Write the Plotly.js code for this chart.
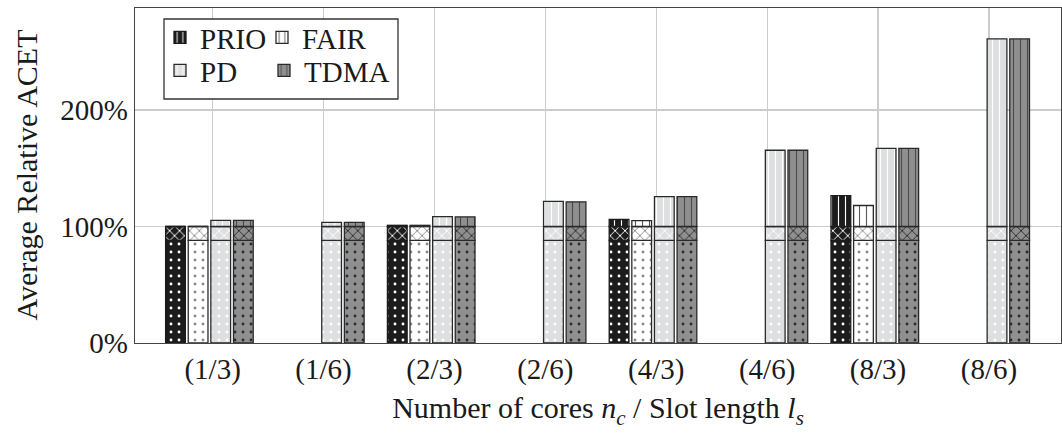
<!DOCTYPE html>
<html>
<head>
<meta charset="utf-8">
<script src="https://cdn.plot.ly/plotly-3.0.1.min.js"></script>
<style>
  html, body { margin: 0; padding: 0; background: #fff; }
  #chart { width: 1062px; height: 433px; }
</style>
</head>
<body>
<div id="chart"></div>
<script>
// ---- data (percent of reference ACET) ----
const categories = ['(1/3)', '(1/6)', '(2/3)', '(2/6)', '(4/3)', '(4/6)', '(8/3)', '(8/6)'];
const seriesNames = ['PRIO', 'FAIR', 'PD', 'TDMA'];
// total bar heights
const prioTotal = [100, null, 101, null, 106, null, 126.5, null];
const fairTotal = [100, null, 101, null, 105, null, 118, null];
const pdTotal   = [105.3, 103.6, 108.5, 121.5, 125.6, 165.4, 167.1, 261];
const tdmaTotal = [105.3, 103.6, 108.3, 121.2, 125.6, 165.4, 167.1, 261];
// segment boundaries (dotted part, cross-hatched part up to 100 %)
const lowerPart = [88, 88, 88, 88, 88, 88, 88, 88];
const middleTop = [100, 100, 100, 100, 100, 100, 100, 100];
const yTickVals = [0, 100, 200];
const yTickText = ['0%', '100%', '200%'];
const xTitle = 'Number of cores <i>n<sub>c</sub></i> / Slot length <i>l<sub>s</sub></i>';
const yTitle = 'Average Relative ACET';

const totals = [prioTotal, fairTotal, pdTotal, tdmaTotal];

// ---- styling ----
const FONT = 'Liberation Serif';
const styles = [
  { bg: '#1c1c1c', fg: '#ffffff', line: '#1c1c1c' },   // PRIO
  { bg: '#ffffff', fg: '#8a8a8a', line: '#2a2a2a' },   // FAIR
  { bg: '#dedfe0', fg: '#ffffff', line: '#2a2a2a' },   // PD
  { bg: '#8f8f8f', fg: '#2a2a2a', line: '#2a2a2a' }    // TDMA
];
const legendIds = ['legend', 'legend2', 'legend3', 'legend4'];
const vlineFg = ['#ffffff', '#5a5a5a', '#ffffff', '#4a4a4a'];
const offsets = [-0.424, -0.220, -0.016, 0.188];
const barWidth = 0.178;

const traces = [];
totals.forEach((tot, s) => {
  const st = styles[s];
  const has = tot.map(v => v !== null);
  const lowY = lowerPart.map((v, i) => has[i] ? v : null);
  const midY = middleTop.map((v, i) => has[i] ? v - lowerPart[i] : null);
  const midBase = lowerPart.map((v, i) => has[i] ? v : null);
  const topY = tot.map((v, i) => has[i] ? Math.max(0, v - middleTop[i]) : null);
  const topBase = middleTop.map((v, i) => has[i] ? v : null);
  const common = {
    type: 'bar', x: categories, offset: offsets[s], width: barWidth,
    hoverinfo: 'skip'
  };
  traces.push(Object.assign({}, common, {
    y: lowY, base: 0, showlegend: false, name: seriesNames[s] + ' base',
    marker: { color: st.bg, line: { color: st.line, width: 1.3 },
      pattern: { shape: '.', bgcolor: st.bg, fgcolor: st.fg, size: 8, solidity: 0.1, fillmode: 'replace' } }
  }));
  traces.push(Object.assign({}, common, {
    y: midY, base: midBase, showlegend: false, name: seriesNames[s] + ' mid',
    marker: { color: st.bg, line: { color: st.line, width: 1.3 },
      pattern: { shape: 'x', bgcolor: st.bg, fgcolor: st.fg, size: 7, solidity: 0.25, fillmode: 'replace' } }
  }));
  traces.push(Object.assign({}, common, {
    y: topY, base: topBase, showlegend: true, name: seriesNames[s], legend: legendIds[s],
    marker: { color: st.bg, line: { color: st.line, width: 1.3 },
      pattern: { shape: '|', bgcolor: st.bg, fgcolor: vlineFg[s], size: 7, solidity: 0.16, fillmode: 'replace' } }
  }));
});

const legendCommon = {
  orientation: 'v', xanchor: 'left', yanchor: 'top',
  bgcolor: 'rgba(0,0,0,0)', borderwidth: 0,
  font: { family: FONT, size: 29, color: '#1a1a1a' },
  itemwidth: 30
};
const PW = 926, PH = 335;
const layout = {
  width: 1062, height: 433,
  margin: { l: 135, r: 1, t: 8, b: 90 },
  paper_bgcolor: '#ffffff', plot_bgcolor: '#ffffff',
  barmode: 'overlay',
  showlegend: true,
  font: { family: FONT, size: 29, color: '#1a1a1a' },
  xaxis: {
    type: 'category', range: [-0.70, 7.65],
    showgrid: true, gridcolor: '#cccccc', gridwidth: 1.2,
    showline: true, linecolor: '#444444', linewidth: 1.3, mirror: true,
    ticks: '', ticklen: 0, tickfont: { family: FONT, size: 29, color: '#1a1a1a' },
    title: { text: xTitle, font: { family: FONT, size: 30, color: '#1a1a1a' }, standoff: 12 },
    zeroline: false, fixedrange: true
  },
  yaxis: {
    range: [0, 287.5], tickvals: yTickVals, ticktext: yTickText,
    showgrid: true, gridcolor: '#cccccc', gridwidth: 1.2,
    showline: true, linecolor: '#444444', linewidth: 1.3, mirror: true,
    ticks: '', tickfont: { family: FONT, size: 29, color: '#1a1a1a' },
    zeroline: false, fixedrange: true
  },
  legend:  Object.assign({}, legendCommon, { x: (160 - 135) / PW, y: (343 - 12) / PH }),
  legend2: Object.assign({}, legendCommon, { x: (262 - 135) / PW, y: (343 - 12) / PH }),
  legend3: Object.assign({}, legendCommon, { x: (160 - 135) / PW, y: (343 - 45) / PH }),
  legend4: Object.assign({}, legendCommon, { x: (264 - 135) / PW, y: (343 - 45) / PH }),
  annotations: [{
    text: yTitle, xref: 'paper', yref: 'paper', x: (26 - 135) / PW, y: 0.5,
    xanchor: 'center', yanchor: 'middle', textangle: -90, showarrow: false,
    font: { family: FONT, size: 30, color: '#1a1a1a' }
  }],
  shapes: [{
    type: 'rect', xref: 'paper', yref: 'paper', layer: 'above',
    x0: (164 - 135) / PW, x1: (398 - 135) / PW,
    y0: (343 - 99) / PH, y1: (343 - 19) / PH,
    line: { color: '#333333', width: 1.3 }, fillcolor: '#ffffff'
  }]
};

Plotly.newPlot('chart', traces, layout, { displayModeBar: false, staticPlot: true });
</script>
</body>
</html>
